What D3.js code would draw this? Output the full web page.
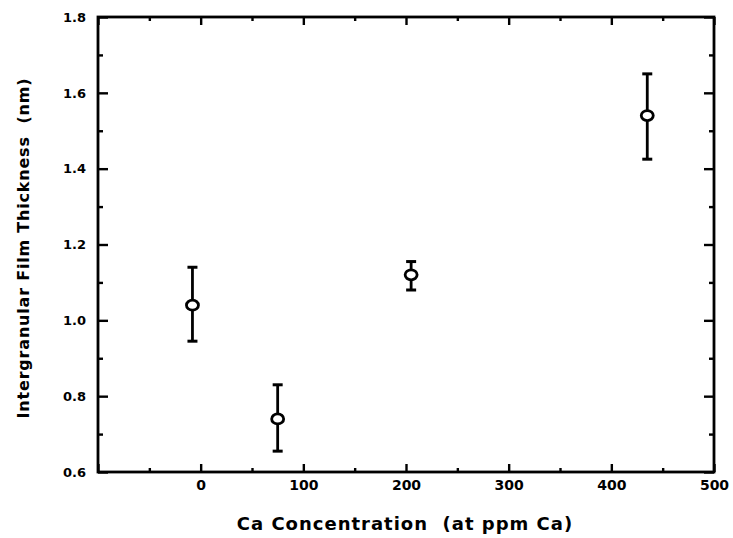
<!DOCTYPE html>
<html>
<head>
<meta charset="utf-8">
<script src="https://cdn.jsdelivr.net/npm/d3@7/dist/d3.min.js"></script>
<style>
  html, body { margin: 0; padding: 0; background: #fff; }
  svg { display: block; }
  text { font-family: "DejaVu Sans", "Liberation Sans", Arial, sans-serif; font-weight: bold; fill: #000; white-space: pre; }
</style>
</head>
<body>
<svg id="chart" width="733" height="538"></svg>
<script>
// ---- data ----
const concentration = [-8, 75, 205, 435];           // at ppm Ca
const thickness     = [1.04, 0.74, 1.12, 1.54];      // nm
const errLow        = [0.945, 0.655, 1.08, 1.425];   // nm
const errHigh       = [1.14, 0.83, 1.155, 1.65];     // nm
const xMajorTicks   = [-100, 0, 100, 200, 300, 400, 500];
const xMinorTicks   = [-50, 50, 150, 250, 350, 450];
const xTickLabels   = [0, 100, 200, 300, 400, 500];
const yMajorTicks   = [0.6, 0.8, 1.0, 1.2, 1.4, 1.6, 1.8];
const yMinorTicks   = [0.7, 0.9, 1.1, 1.3, 1.5, 1.7];
const xTitle = "Ca Concentration  (at ppm Ca)";
const yTitle = "Intergranular Film Thickness  (nm)";

const FONT = "'DejaVu Sans', 'Liberation Sans', Arial, sans-serif";
const svg = d3.select("#chart");
const L = 98, R = 714, T = 17, B = 472;
const x = d3.scaleLinear().domain([-100, 500]).range([L, R]);
const y = d3.scaleLinear().domain([0.6, 1.8]).range([B, T]);

const g = svg.append("g");

// frame
g.append("rect").attr("x", L).attr("y", T).attr("width", R - L).attr("height", B - T)
  .attr("fill", "none").attr("stroke", "#000").attr("stroke-width", 2.8);

function styleAxis(sel) {
  sel.select(".domain").remove();
  sel.selectAll(".tick line").attr("stroke", "#000").attr("stroke-width", 2.4);
}

// bottom axis (ticks inward)
const bMaj = g.append("g").attr("transform", `translate(0,${B})`)
  .call(d3.axisBottom(x).tickValues(xMajorTicks).tickSize(-8).tickPadding(8)
    .tickFormat(d => xTickLabels.includes(d) ? d3.format("d")(d) : ""));
styleAxis(bMaj);
bMaj.selectAll("text").attr("font-size", 14).attr("font-weight", "bold")
  .attr("font-family", FONT).attr("fill", "#000");
const bMin = g.append("g").attr("transform", `translate(0,${B})`)
  .call(d3.axisBottom(x).tickValues(xMinorTicks).tickSize(-4).tickFormat(""));
styleAxis(bMin);

// top axis
const tMaj = g.append("g").attr("transform", `translate(0,${T})`)
  .call(d3.axisTop(x).tickValues(xMajorTicks).tickSize(-8).tickFormat(""));
styleAxis(tMaj);
const tMin = g.append("g").attr("transform", `translate(0,${T})`)
  .call(d3.axisTop(x).tickValues(xMinorTicks).tickSize(-4).tickFormat(""));
styleAxis(tMin);

// left axis
const lMaj = g.append("g").attr("transform", `translate(${L},0)`)
  .call(d3.axisLeft(y).tickValues(yMajorTicks).tickSize(-10).tickPadding(12)
    .tickFormat(d3.format(".1f")));
styleAxis(lMaj);
lMaj.selectAll("text").attr("font-size", 13).attr("font-weight", "bold")
  .attr("font-family", FONT).attr("fill", "#000");
const lMin = g.append("g").attr("transform", `translate(${L},0)`)
  .call(d3.axisLeft(y).tickValues(yMinorTicks).tickSize(-5).tickFormat(""));
styleAxis(lMin);

// right axis
const rMaj = g.append("g").attr("transform", `translate(${R},0)`)
  .call(d3.axisRight(y).tickValues(yMajorTicks).tickSize(-10).tickFormat(""));
styleAxis(rMaj);
const rMin = g.append("g").attr("transform", `translate(${R},0)`)
  .call(d3.axisRight(y).tickValues(yMinorTicks).tickSize(-5).tickFormat(""));
styleAxis(rMin);

// data
const data = concentration.map((c, i) => ({ c, v: thickness[i], lo: errLow[i], hi: errHigh[i] }));
const pts = g.append("g").selectAll("g").data(data).join("g");
pts.append("line")
  .attr("x1", d => x(d.c)).attr("x2", d => x(d.c))
  .attr("y1", d => y(d.hi)).attr("y2", d => y(d.lo))
  .attr("stroke", "#000").attr("stroke-width", 2.8);
pts.append("line")
  .attr("x1", d => x(d.c) - 5).attr("x2", d => x(d.c) + 5)
  .attr("y1", d => y(d.hi)).attr("y2", d => y(d.hi))
  .attr("stroke", "#000").attr("stroke-width", 3);
pts.append("line")
  .attr("x1", d => x(d.c) - 5).attr("x2", d => x(d.c) + 5)
  .attr("y1", d => y(d.lo)).attr("y2", d => y(d.lo))
  .attr("stroke", "#000").attr("stroke-width", 3);
pts.append("ellipse")
  .attr("cx", d => x(d.c)).attr("cy", d => y(d.v))
  .attr("rx", 6).attr("ry", 5)
  .attr("fill", "#fff").attr("stroke", "#000").attr("stroke-width", 2.8);

// titles
svg.append("text").attr("x", 405).attr("y", 530).attr("text-anchor", "middle")
  .attr("font-size", 18).attr("letter-spacing", 1).text(xTitle);
svg.append("text").attr("transform", `translate(29,248) rotate(-90)`)
  .attr("text-anchor", "middle").attr("font-size", 16).attr("letter-spacing", 0.8).text(yTitle);
</script>
</body>
</html>
